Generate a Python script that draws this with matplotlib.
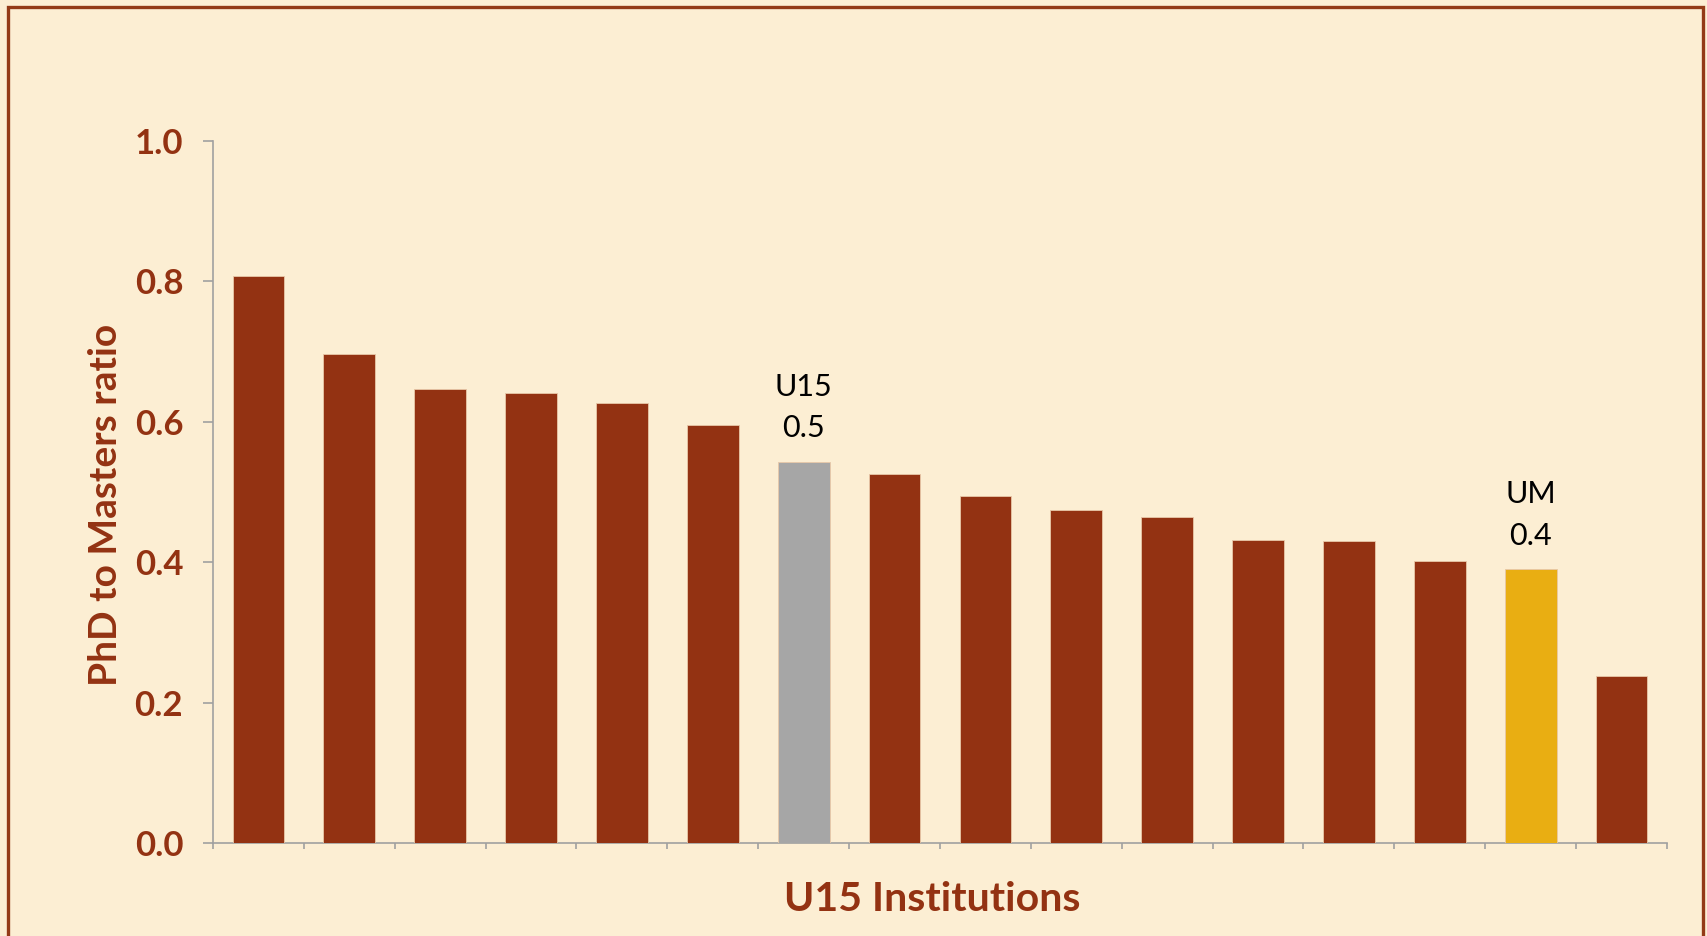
import matplotlib.pyplot as plt
import matplotlib.patches as patches

# PhD to Masters ratio, U15 institutions sorted high to low
values = [0.807, 0.696, 0.647, 0.641, 0.627, 0.596, 0.543, 0.525,
          0.495, 0.475, 0.464, 0.432, 0.430, 0.401, 0.390, 0.238]
labels = {6: 'U15\n0.5', 14: 'UM\n0.4'}

brown = '#933212'
bg = '#FCEED3'
bar_colors = [brown] * len(values)
bar_colors[6] = '#A6A6A6'
bar_colors[14] = '#E9AE12'

plt.rcParams['font.family'] = ['Lato', 'DejaVu Sans']

W, H = 1708, 936
fig = plt.figure(figsize=(W / 100, H / 100), dpi=100, facecolor=bg)
ax = fig.add_axes([213 / W, 1 - 843 / H, (1667 - 213) / W, (843 - 141) / H])
ax.set_facecolor(bg)

x = range(len(values))
ax.bar(x, values, width=0.57, color=bar_colors, edgecolor='#E8C8A8', linewidth=0.6, zorder=3)

for i, txt in labels.items():
    ax.annotate(txt, (i, values[i]), xytext=(0, 14), textcoords='offset points',
                ha='center', va='bottom', fontsize=22, color='black', linespacing=1.6)

ax.set_xlim(-0.5, len(values) - 0.5)
ax.set_ylim(0, 1.0)
ax.set_yticks([0.0, 0.2, 0.4, 0.6, 0.8, 1.0])
ax.set_yticklabels(['0.0', '0.2', '0.4', '0.6', '0.8', '1.0'])
ax.set_xticks([i - 0.5 for i in range(len(values) + 1)])
ax.set_xticklabels([])

for s in ['top', 'right']:
    ax.spines[s].set_visible(False)
for s in ['left', 'bottom']:
    ax.spines[s].set_color('#A0A0A0')
    ax.spines[s].set_linewidth(1.2)

ax.tick_params(axis='y', length=7.5, width=1.2, color='#A0A0A0', pad=14,
               labelsize=25, labelcolor=brown)
ax.tick_params(axis='x', length=4.5, width=1.2, color='#A0A0A0')
for t in ax.get_yticklabels():
    t.set_fontweight('bold')

# axis titles placed like the slide
fig.text(117 / W, 1 - 505 / H, 'PhD to Masters ratio', rotation=90, rotation_mode='anchor',
         ha='center', va='baseline', fontsize=28, fontweight='bold', color=brown)
fig.text(932 / W, 1 - 911 / H, 'U15 Institutions', ha='center', va='baseline',
         fontsize=29.5, fontweight='bold', color=brown)

# brown frame around the slide
frame = patches.Rectangle((8 / W, -0.05), (1703 - 8) / W, 1 - 7 / H + 0.05,
                          transform=fig.transFigure, fill=False, edgecolor='#933A16',
                          linewidth=2.4, clip_on=False)
fig.patches.append(frame)

fig.savefig('out.png', dpi=100, facecolor=bg)
